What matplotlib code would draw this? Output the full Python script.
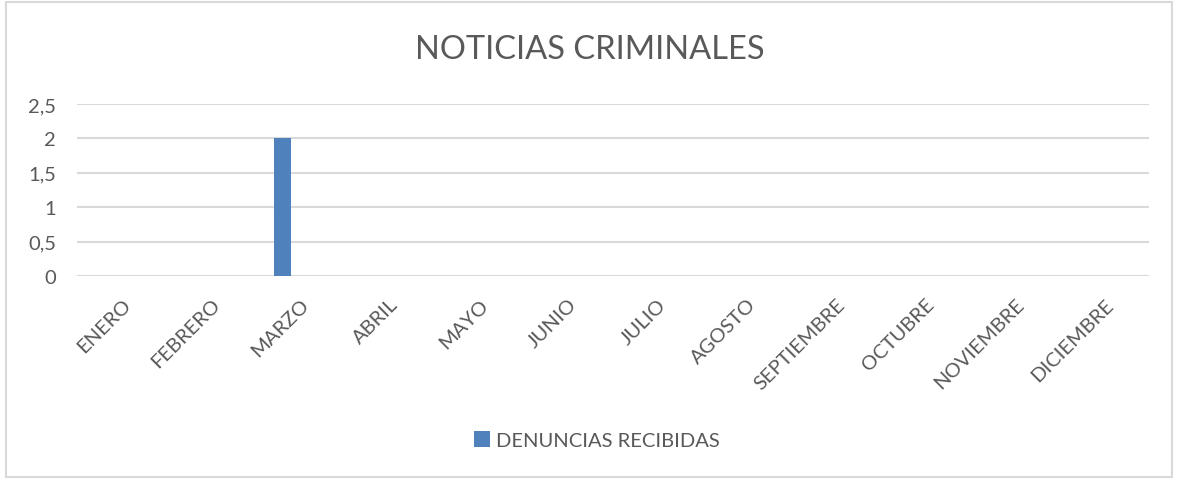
import matplotlib.pyplot as plt
from matplotlib.patches import Rectangle
from matplotlib.ticker import FuncFormatter

meses = ['ENERO', 'FEBRERO', 'MARZO', 'ABRIL', 'MAYO', 'JUNIO', 'JULIO',
         'AGOSTO', 'SEPTIEMBRE', 'OCTUBRE', 'NOVIEMBRE', 'DICIEMBRE']
denuncias = [0, 0, 2, 0, 0, 0, 0, 0, 0, 0, 0, 0]
serie = 'DENUNCIAS RECIBIDAS'
titulo = 'NOTICIAS CRIMINALES'

plt.rcParams['font.family'] = ['Lato', 'DejaVu Sans']
gris = '#595959'
azul = '#4F81BD'

fig = plt.figure(figsize=(11.79, 4.81), dpi=100)
fig.patches.append(Rectangle((6 / 1179, 3 / 481), 1166 / 1179, 475 / 481,
                             transform=fig.transFigure, fill=False,
                             edgecolor='#D9D9D9', linewidth=1.5))

ax = fig.add_axes([77 / 1179, 1 - 277 / 481, 1072 / 1179, 172 / 481])
x = list(range(len(meses)))
# la barra va desplazada a la izquierda, como en el grafico agrupado de Excel
ax.bar([i - 0.2 for i in x], denuncias, width=0.18, color=azul, zorder=3,
       label=serie)

ax.set_xlim(-0.5, len(meses) - 0.5)
ax.set_ylim(0, 2.5)
ax.set_yticks([0, 0.5, 1, 1.5, 2, 2.5])
ax.yaxis.set_major_formatter(FuncFormatter(lambda v, p: f'{v:g}'.replace('.', ',')))
ax.grid(axis='y', color='#D9D9D9', linewidth=1.5, zorder=0)
ax.set_axisbelow(True)
for s in ax.spines.values():
    s.set_visible(False)
ax.tick_params(axis='both', length=0, colors=gris, labelsize=14.5)
ax.tick_params(axis='y', pad=15)
ax.set_xticks(x)
ax.set_xticklabels(meses, rotation=45, ha='right', rotation_mode='anchor',
                   fontsize=14.5)
ax.tick_params(axis='x', pad=14)

fig.text(0.5, 1 - 50 / 481, titulo, ha='center', va='center', fontsize=23.5,
         color=gris)

leg = fig.legend(loc='center', bbox_to_anchor=(597 / 1179, 1 - 441 / 481),
                 frameon=False, fontsize=14.5, handlelength=0.8,
                 handleheight=0.8, handletextpad=0.3)
for t in leg.get_texts():
    t.set_color(gris)

fig.savefig('out.png', dpi=100, facecolor='white')
